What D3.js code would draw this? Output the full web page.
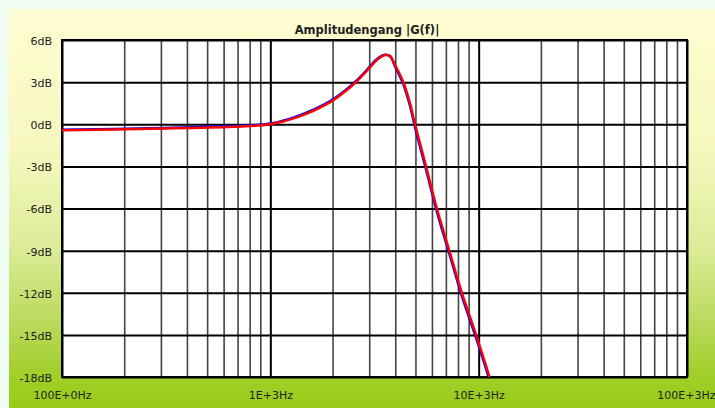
<!DOCTYPE html>
<html>
<head>
<meta charset="utf-8">
<script src="https://cdn.jsdelivr.net/npm/d3@7"></script>
<style>
  html, body { margin: 0; padding: 0; background: #f0fdf2; }
  svg { display: block; }
</style>
</head>
<body>
<svg id="chart"></svg>
<script>
// values
const freqHz = [100, 265, 660, 1000, 1340, 1940, 2270, 2600, 3010, 3183, 3363, 3550, 3756, 3970, 4350, 4680, 4950, 5590, 6300, 7230, 8300, 9720, 11260, 11500];
const redDb  = [-0.43, -0.32, -0.18, 0.0, 0.49, 1.58, 2.30, 3.05, 4.05, 4.46, 4.76, 4.93, 4.86, 4.22, 3.0, 1.5, 0.0, -3.0, -6.0, -9.0, -12.0, -15.0, -18.0, -18.6];
const blueDb = [-0.40, -0.28, -0.13, 0.05, 0.56, 1.65, 2.37, 3.12, 4.12, 4.52, 4.80, 4.95, 4.84, 4.12, 2.85, 1.32, -0.22, -3.22, -6.22, -9.22, -12.22, -15.22, -18.22, -18.8];

const yTicks = [6, 3, 0, -3, -6, -9, -12, -15, -18];
const xTicks = [100, 1000, 10000, 100000];
const xTickLabels = ['100E+0Hz', '1E+3Hz', '10E+3Hz', '100E+3Hz'];
const title = 'Amplitudengang |G(f)|';

const width = 715, height = 408;
const plot = { left: 62, right: 687, top: 40, bottom: 377 };

const svg = d3.select('#chart')
  .attr('width', width)
  .attr('height', height);

const defs = svg.append('defs');
const grad = defs.append('linearGradient')
  .attr('id', 'panelGrad')
  .attr('x1', 0).attr('y1', 0).attr('x2', 0).attr('y2', 1);
[[0, '#fefdd2'], [0.35, '#f6f8bf'], [0.6, '#dcec98'], [0.8, '#b8d858'], [0.92, '#a0cf28'], [1, '#98cb18']]
  .forEach(s => grad.append('stop').attr('offset', s[0]).attr('stop-color', s[1]));

defs.append('clipPath').attr('id', 'plotClip')
  .append('rect')
  .attr('x', plot.left).attr('y', plot.top)
  .attr('width', plot.right - plot.left).attr('height', plot.bottom - plot.top);

svg.append('rect')
  .attr('x', 9).attr('y', 9)
  .attr('width', width - 9).attr('height', height - 9)
  .attr('fill', 'url(#panelGrad)');

const x = d3.scaleLog()
  .domain([100, 100000])
  .range([plot.left, plot.right]);

const y = d3.scaleLinear()
  .domain([-18, 6])
  .range([plot.bottom, plot.top]);

// plot background
svg.append('rect')
  .attr('x', plot.left).attr('y', plot.top)
  .attr('width', plot.right - plot.left).attr('height', plot.bottom - plot.top)
  .attr('fill', '#fff');

// minor vertical grid
const minor = x.ticks().filter(d => !xTicks.includes(d));
svg.append('g')
  .selectAll('line')
  .data(minor)
  .enter().append('line')
  .attr('x1', d => x(d)).attr('x2', d => x(d))
  .attr('y1', plot.top).attr('y2', plot.bottom)
  .attr('stroke', '#444')
  .attr('stroke-width', 1.6);

// major grid via axes
const yGrid = svg.append('g')
  .attr('transform', `translate(${plot.left},0)`)
  .call(d3.axisLeft(y).tickValues(yTicks).tickSize(-(plot.right - plot.left)).tickFormat(''));
yGrid.select('.domain').remove();
yGrid.selectAll('line').attr('stroke', '#000').attr('stroke-width', 2);

const xGrid = svg.append('g')
  .attr('transform', `translate(0,${plot.bottom})`)
  .call(d3.axisBottom(x).tickValues(xTicks).tickSize(-(plot.bottom - plot.top)).tickFormat(''));
xGrid.select('.domain').remove();
xGrid.selectAll('line').attr('stroke', '#000').attr('stroke-width', 2);

// frame
svg.append('rect')
  .attr('x', plot.left).attr('y', plot.top)
  .attr('width', plot.right - plot.left).attr('height', plot.bottom - plot.top)
  .attr('fill', 'none')
  .attr('stroke', '#000')
  .attr('stroke-width', 2);

// curves
const line = vals => d3.line()
  .x((d, i) => x(freqHz[i]))
  .y(d => y(d))
  .curve(d3.curveCatmullRom.alpha(0.5))(vals);

const curves = svg.append('g').attr('clip-path', 'url(#plotClip)');
curves.append('path')
  .attr('d', line(blueDb))
  .attr('fill', 'none')
  .attr('stroke', '#0000ff')
  .attr('stroke-width', 2.5);
curves.append('path')
  .attr('d', line(redDb))
  .attr('fill', 'none')
  .attr('stroke', '#ff0000')
  .attr('stroke-width', 2.5);

// labels
const yAxis = svg.append('g')
  .attr('transform', `translate(${plot.left},0)`)
  .call(d3.axisLeft(y).tickValues(yTicks).tickSize(0).tickPadding(10).tickFormat(d => d + 'dB'));
yAxis.select('.domain').remove();
yAxis.selectAll('text')
  .attr('font-family', 'DejaVu Sans, sans-serif')
  .attr('font-size', 11)
  .attr('fill', '#222')
  .attr('dy', '0.4em');

const xAxis = svg.append('g')
  .attr('transform', `translate(0,${plot.bottom})`)
  .call(d3.axisBottom(x).tickValues(xTicks).tickSize(0).tickPadding(14)
    .tickFormat((d, i) => xTickLabels[i]));
xAxis.select('.domain').remove();
xAxis.selectAll('text')
  .attr('font-family', 'DejaVu Sans, sans-serif')
  .attr('font-size', 11)
  .attr('fill', '#222');
// keep the last label inside the window
xAxis.selectAll('text').filter((d, i) => i === xTicks.length - 1)
  .attr('text-anchor', 'end')
  .attr('dx', 28);

svg.append('text')
  .attr('x', 367)
  .attr('y', 34)
  .attr('text-anchor', 'middle')
  .attr('font-family', 'DejaVu Sans, sans-serif')
  .attr('font-weight', 'bold')
  .attr('font-size', 11.5)
  .attr('fill', '#222')
  .text(title);
</script>
</body>
</html>
